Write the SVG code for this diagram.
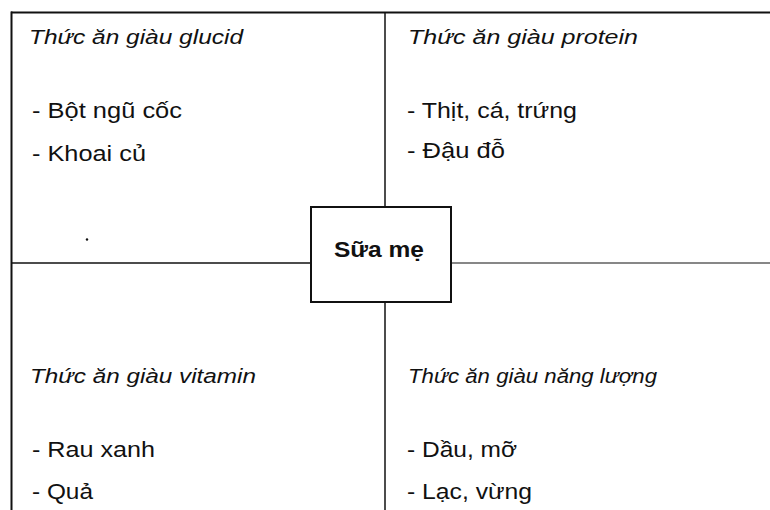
<svg xmlns="http://www.w3.org/2000/svg" width="770" height="510" viewBox="0 0 770 510">
<style>
.t{font-family:"Liberation Sans",Arial,sans-serif;fill:#111;}
.h{font-style:italic;font-size:19.5px;}
.i{font-size:21.5px;}
.b{font-weight:bold;font-size:21.5px;}
.ln{stroke:#111;fill:none;}
</style>
<rect width="770" height="510" fill="#fff"/>
<g id="connectors">
<line class="ln" x1="11" y1="12.5" x2="770" y2="12.5" stroke-width="2"/>
<line class="ln" x1="11.5" y1="11.5" x2="11.5" y2="510" stroke-width="2"/>
<line class="ln" x1="385" y1="12" x2="385" y2="207" stroke-width="1.5"/>
<line class="ln" x1="385" y1="302" x2="385" y2="510" stroke-width="1.5"/>
<line class="ln" x1="11" y1="263" x2="311" y2="263" stroke-width="1.5"/>
<line class="ln" x1="451" y1="263" x2="770" y2="263" stroke-width="1.2"/>
</g>
<g id="glucid">
<text class="t h" x="29" y="43.5" textLength="214" lengthAdjust="spacingAndGlyphs">Thức ăn giàu glucid</text>
<text class="t i" x="32" y="118" textLength="150" lengthAdjust="spacingAndGlyphs">- Bột ngũ cốc</text>
<text class="t i" x="32" y="161" textLength="114" lengthAdjust="spacingAndGlyphs">- Khoai củ</text>
<circle cx="87" cy="239.5" r="1.2" fill="#111"/>
</g>
<g id="protein">
<text class="t h" x="408" y="43.5" textLength="230" lengthAdjust="spacingAndGlyphs">Thức ăn giàu protein</text>
<text class="t i" x="407" y="118" textLength="170" lengthAdjust="spacingAndGlyphs">- Thịt, cá, trứng</text>
<text class="t i" x="407" y="158" textLength="98" lengthAdjust="spacingAndGlyphs">- Đậu đỗ</text>
</g>
<g id="vitamin">
<text class="t h" x="30" y="383" textLength="226" lengthAdjust="spacingAndGlyphs">Thức ăn giàu vitamin</text>
<text class="t i" x="32" y="457" textLength="123" lengthAdjust="spacingAndGlyphs">- Rau xanh</text>
<text class="t i" x="32" y="499" textLength="61" lengthAdjust="spacingAndGlyphs">- Quả</text>
</g>
<g id="nangluong">
<text class="t h" x="408" y="383" textLength="249" lengthAdjust="spacingAndGlyphs">Thức ăn giàu năng lượng</text>
<text class="t i" x="407" y="457" textLength="110" lengthAdjust="spacingAndGlyphs">- Dầu, mỡ</text>
<text class="t i" x="407" y="499" textLength="125" lengthAdjust="spacingAndGlyphs">- Lạc, vừng</text>
</g>
<g id="suame">
<rect x="311" y="207" width="140" height="95" fill="#fff" stroke="#111" stroke-width="2"/>
<text class="t b" x="334" y="256.5" textLength="90" lengthAdjust="spacingAndGlyphs">Sữa mẹ</text>
</g>
</svg>
